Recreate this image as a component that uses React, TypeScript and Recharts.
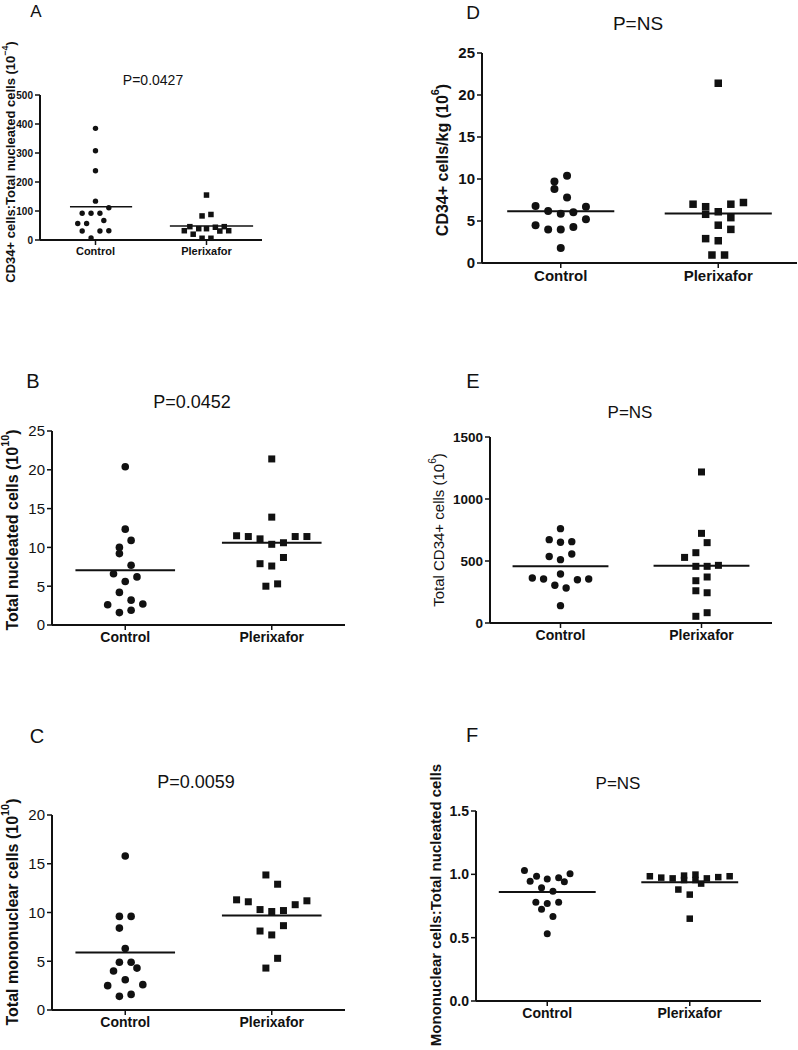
import React from 'react';
import { ScatterChart, Scatter, XAxis, YAxis, ReferenceLine } from 'recharts';

const FONT = 'Arial, "Liberation Sans", Helvetica, sans-serif';
const INK = '#111';

const groups = ['Control', 'Plerixafor'];

// each point: [jitter offset from the group centre, value]
const aControl = [[0, 385], [0, 308], [0, 239], [0, 134], [0.12, 111], [-0.12, 92], [-0.04, 92], [0.04, 92], [-0.16, 57], [-0.08, 57], [0.075, 67], [-0.12, 31], [0.04, 31], [0.12, 32], [-0.04, 7]];
const aPlerixafor = [[0, 155], [-0.04, 83], [0.04, 88], [-0.15, 46], [-0.07, 39], [0, 39], [0.08, 44], [0.16, 46], [-0.2, 32], [0.12, 31], [0.2, 32], [-0.12, 20], [-0.04, 6], [0.04, 6]];
const aMeans = [115, 48];

const dControl = [[0.04, 10.4], [-0.04, 9.7], [-0.04, 8.8], [0.04, 7.8], [-0.16, 6.8], [0.16, 6.7], [-0.08, 6.2], [0, 5.85], [0.08, 6.05], [0.16, 5.2], [-0.16, 4.5], [-0.08, 4.0], [0, 4.0], [0.08, 4.3], [0, 1.8]];
const dPlerixafor = [[0, 21.4], [-0.16, 7.0], [-0.08, 6.7], [-0.08, 5.8], [0, 6.1], [0.08, 7.0], [0.16, 7.2], [0.08, 5.4], [0, 4.5], [0.08, 4.0], [-0.08, 2.9], [0, 2.65], [-0.04, 0.95], [0.04, 0.95]];
const dMeans = [6.15, 5.9];

const bControl = [[0, 20.4], [0, 12.35], [0.04, 10.9], [-0.04, 10.0], [-0.04, 9.2], [0.04, 7.7], [-0.08, 6.6], [0.08, 6.2], [0, 5.6], [-0.04, 4.2], [0.04, 3.2], [-0.12, 2.6], [0.12, 2.7], [-0.04, 1.6], [0.04, 1.9]];
const bPlerixafor = [[0, 21.4], [0, 13.9], [-0.24, 11.5], [-0.16, 11.4], [-0.08, 11.1], [0.16, 11.4], [0.24, 11.4], [0, 10.4], [0.08, 10.6], [0.08, 8.7], [-0.08, 7.9], [0, 7.6], [-0.04, 5.0], [0.04, 5.3]];
const bMeans = [7.05, 10.6];

const eControl = [[0, 761], [-0.08, 672], [0, 651], [0.08, 656], [-0.08, 536], [0, 511], [0.08, 556], [-0.2, 363], [-0.12, 355], [0, 395], [0.12, 349], [0.2, 355], [-0.04, 304], [0.04, 282], [0, 140]];
const ePlerixafor = [[0, 1218], [0, 723], [0.04, 648], [-0.04, 567], [-0.12, 529], [-0.04, 457], [0.04, 457], [0.12, 465], [0.04, 371], [-0.04, 341], [-0.04, 260], [0.04, 244], [0.04, 83], [-0.04, 54]];
const eMeans = [457, 462];

const cControl = [[0, 15.8], [-0.04, 9.6], [0.04, 9.6], [-0.04, 8.4], [0, 6.3], [-0.04, 4.9], [0.04, 4.9], [-0.08, 4.0], [0.08, 4.3], [0, 3.1], [-0.12, 2.5], [0.12, 2.6], [-0.04, 1.4], [0.04, 1.6]];
const cPlerixafor = [[-0.04, 13.85], [0.04, 12.9], [-0.24, 11.3], [-0.16, 11.1], [0.24, 11.2], [0.16, 10.8], [-0.08, 10.3], [0, 10.1], [0.08, 10.2], [0.08, 8.65], [-0.08, 8.1], [0, 7.7], [0.04, 5.3], [-0.04, 4.3]];
const cMeans = [5.9, 9.7];

const fControl = [[-0.16, 1.03], [-0.075, 0.984], [-0.12, 0.945], [0, 0.963], [0.08, 0.974], [0.12, 0.942], [0.16, 1.005], [-0.04, 0.895], [0.04, 0.866], [-0.08, 0.78], [0, 0.77], [0.08, 0.78], [-0.04, 0.724], [0.04, 0.668], [0, 0.53]];
const fPlerixafor = [[-0.28, 0.985], [-0.2, 0.974], [-0.12, 0.968], [-0.04, 0.99], [-0.04, 0.955], [0.04, 0.998], [0.04, 0.955], [0.08, 0.927], [0.12, 0.968], [0.2, 0.978], [0.28, 0.985], [-0.08, 0.88], [0, 0.84], [0, 0.65]];
const fMeans = [0.86, 0.937];

const ticks25 = [0, 5, 10, 15, 20, 25];

const wide = [[-0.34, 0.34], [-0.34, 0.34]];

const panels = [
  {
    key: 'A', letter: [36, 11, 17], p: ['P=0.0427', 153, 80, 14],
    left: 0, top: 0, width: 280, height: 300, yw: 40, mt: 95, mr: 18, mb: 38, xh: 22,
    ymax: 500, ticks: [0, 100, 200, 300, 400, 500], tickFont: 10, catFont: 11,
    title: { text: 'CD34+ cells:Total nucleated cells (10', sup: '\u22124', px: 10, py: 162, size: 13, weight: 'bold' },
    control: aControl, plx: aPlerixafor, means: aMeans, spans: [[-0.23, 0.33], [-0.33, 0.42]],
    r: 2.7, sq: 5.5, lw: 1.5, dec: 0, tickWeight: 'bold',
  },
  {
    key: 'D', letter: [473, 12, 19], p: ['P=NS', 638, 23, 19],
    left: 380, top: 0, width: 418, height: 300, yw: 102, mt: 53, mr: 1, mb: 7, xh: 30,
    ymax: 25, ticks: ticks25, tickFont: 15, catFont: 15,
    title: { text: 'CD34+ cells/kg (10', sup: '6', px: 62, py: 160, size: 16, weight: 'bold' },
    control: dControl, plx: dPlerixafor, means: dMeans, spans: wide,
    r: 4, sq: 7.5, lw: 2, dec: 0, tickWeight: 'bold',
  },
  {
    key: 'B', letter: [33, 381, 20], p: ['P=0.0452', 192, 402, 18],
    left: 0, top: 330, width: 350, height: 335, yw: 52, mt: 101, mr: 5, mb: 10, xh: 30,
    ymax: 25, ticks: ticks25, tickFont: 15, catFont: 14,
    title: { text: 'Total nucleated cells (10', sup: '10', px: 12, py: 200, size: 16, weight: 'bold' },
    control: bControl, plx: bPlerixafor, means: bMeans, spans: wide,
    r: 3.8, sq: 7, lw: 2, dec: 0, tickWeight: 'normal',
  },
  {
    key: 'E', letter: [473, 381, 20], p: ['P=NS', 630, 412, 17],
    left: 380, top: 330, width: 418, height: 320, yw: 110, mt: 107, mr: 26, mb: 2, xh: 25,
    ymax: 1500, ticks: [0, 500, 1000, 1500], tickFont: 13.5, catFont: 14,
    title: { text: 'Total CD34+ cells  (10', sup: '6', px: 58, py: 200, size: 15, weight: 'normal' },
    control: eControl, plx: ePlerixafor, means: eMeans, spans: wide,
    r: 3.7, sq: 7, lw: 2, dec: 0, tickWeight: 'bold',
  },
  {
    key: 'C', letter: [37, 736, 20], p: ['P=0.0059', 196, 782, 18],
    left: 0, top: 680, width: 350, height: 370, yw: 52, mt: 135, mr: 5, mb: 10, xh: 30,
    ymax: 20, ticks: [0, 5, 10, 15, 20], tickFont: 15, catFont: 14,
    title: { text: 'Total mononuclear cells  (10', sup: '10', px: 12, py: 232, size: 16, weight: 'bold' },
    control: cControl, plx: cPlerixafor, means: cMeans, spans: wide,
    r: 3.8, sq: 7, lw: 2, dec: 0, tickWeight: 'normal',
  },
  {
    key: 'F', letter: [472, 735, 20], p: ['P=NS', 618, 783, 17],
    left: 380, top: 680, width: 418, height: 370, yw: 96, mt: 131, mr: 37, mb: 19, xh: 30,
    ymax: 1.5, ticks: [0, 0.5, 1, 1.5], tickFont: 14, catFont: 14,
    title: { text: 'Mononuclear cells:Total nucleated cells', sup: '', px: 55, py: 225, size: 15, weight: 'bold' },
    control: fControl, plx: fPlerixafor, means: fMeans, spans: wide,
    r: 3.5, sq: 6.5, lw: 2, dec: 1, tickWeight: 'bold',
  },
];

function YTitle({ px, py, size, weight, text, sup }: any) {
  return (
    <text
      transform={`translate(${px},${py}) rotate(-90)`}
      textAnchor="middle"
      dominantBaseline="central"
      fontSize={size}
      fontWeight={weight}
      fontFamily={FONT}
      fill={INK}
    >
      {text}
      {sup ? (
        <>
          <tspan fontSize={size * 0.68} dy={-size * 0.42}>{sup}</tspan>
          <tspan dy={size * 0.42}>)</tspan>
        </>
      ) : null}
    </text>
  );
}

const toPoints = (arr: number[][], g: number) => arr.map(([dx, v]) => ({ x: g + 1 + dx, y: v }));

function Panel({ p }: any) {
  const dot = (props: any) => <circle cx={props.cx} cy={props.cy} r={p.r} fill={INK} />;
  const square = (props: any) => (
    <rect x={props.cx - p.sq / 2} y={props.cy - p.sq / 2} width={p.sq} height={p.sq} fill={INK} />
  );
  const axisStyle = { stroke: INK, strokeWidth: 2 };
  return (
    <div style={{ position: 'absolute', left: p.left, top: p.top }}>
      <ScatterChart width={p.width} height={p.height} margin={{ top: p.mt, right: p.mr, bottom: p.mb, left: 0 }}>
        <XAxis
          type="number"
          dataKey="x"
          domain={[0.5, 2.5]}
          ticks={[1, 2]}
          tickFormatter={(v: number) => groups[v - 1]}
          height={p.xh}
          axisLine={axisStyle}
          tickLine={{ stroke: INK, strokeWidth: 1.5 }}
          tickSize={5}
          tick={{ fontSize: p.catFont, fontWeight: 'bold', fill: INK, fontFamily: FONT }}
        />
        <YAxis
          type="number"
          dataKey="y"
          domain={[0, p.ymax]}
          ticks={p.ticks}
          width={p.yw}
          tickFormatter={(v: number) => v.toFixed(p.dec)}
          axisLine={axisStyle}
          tickLine={{ stroke: INK, strokeWidth: 1.5 }}
          tickSize={5}
          tick={{ fontSize: p.tickFont, fontWeight: p.tickWeight, fill: INK, fontFamily: FONT }}
          label={<YTitle {...p.title} />}
        />
        <Scatter data={toPoints(p.control, 0)} shape={dot} isAnimationActive={false} />
        <Scatter data={toPoints(p.plx, 1)} shape={square} isAnimationActive={false} />
        {p.means.map((m: number, i: number) => (
          <ReferenceLine
            key={i}
            segment={[{ x: i + 1 + p.spans[i][0], y: m }, { x: i + 1 + p.spans[i][1], y: m }]}
            stroke={INK}
            strokeWidth={p.lw}
          />
        ))}
      </ScatterChart>
    </div>
  );
}

const centered = (x: number, y: number, size: number): React.CSSProperties => ({
  position: 'absolute',
  left: x,
  top: y,
  transform: 'translate(-50%, -50%)',
  fontSize: size,
  fontFamily: FONT,
  color: INK,
  whiteSpace: 'nowrap',
  lineHeight: 1,
});

export default function App() {
  return (
    <div style={{ position: 'absolute', left: 0, top: 0, width: 798, height: 1050, background: '#fff' }}>
      {panels.map((p) => (
        <Panel key={p.key} p={p} />
      ))}
      {panels.map((p) => (
        <div key={p.key + '-letter'} style={centered(p.letter[0], p.letter[1], p.letter[2])}>{p.key}</div>
      ))}
      {panels.map((p) => (
        <div key={p.key + '-p'} style={centered(p.p[1] as number, p.p[2] as number, p.p[3] as number)}>{p.p[0]}</div>
      ))}
    </div>
  );
}
